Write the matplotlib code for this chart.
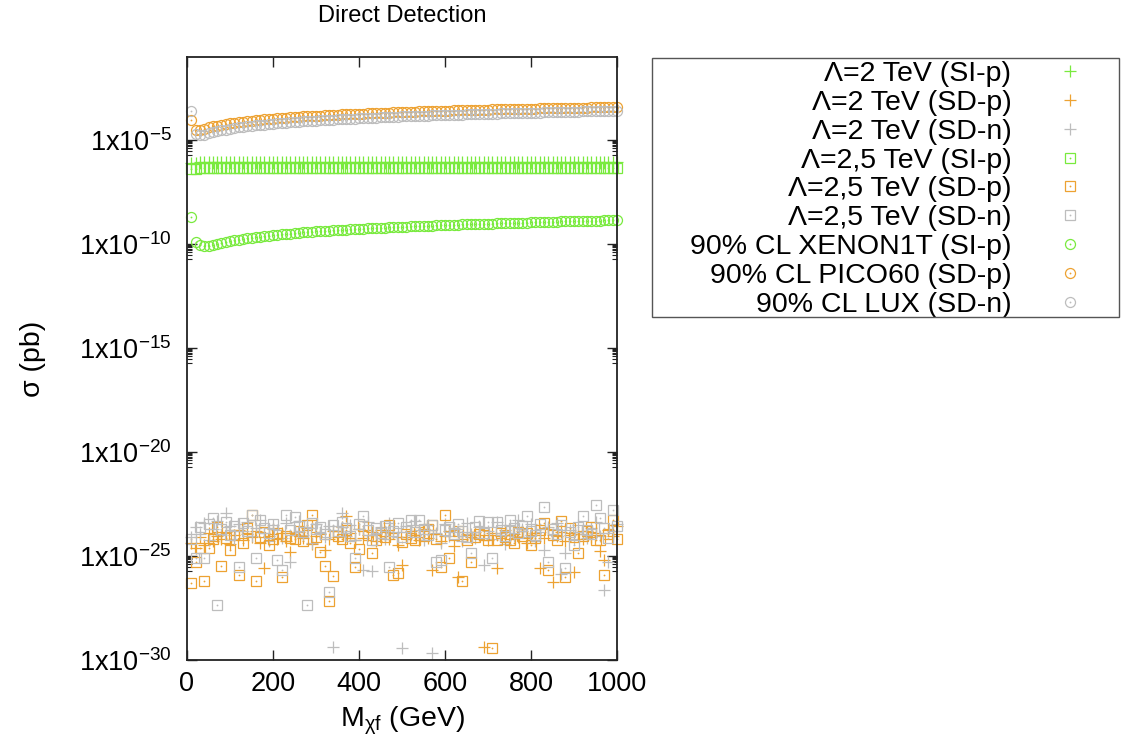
import numpy as np
import matplotlib
matplotlib.use("Agg")
import matplotlib.pyplot as plt
from matplotlib.patches import Rectangle
from matplotlib.ticker import FixedLocator, FixedFormatter, NullLocator

plt.rcParams['font.family'] = ['Liberation Sans', 'DejaVu Sans']
plt.rcParams['mathtext.fontset'] = 'custom'
plt.rcParams['mathtext.rm'] = 'Liberation Sans'
plt.rcParams['mathtext.it'] = 'Liberation Sans:italic'
plt.rcParams['mathtext.bf'] = 'Liberation Sans:bold'

# ---------------- data (log10 of sigma in pb) ----------------
mass = list(range(10, 1001, 10))  # M_chi_f grid (GeV)

log_sip_L2 = [
    -6.12, -6.08, -6.07, -6.06, -6.06, -6.05, -6.05, -6.05, -6.05, -6.05,
    -6.04, -6.04, -6.04, -6.04, -6.04, -6.04, -6.04, -6.04, -6.04, -6.04,
    -6.04, -6.04, -6.04, -6.04, -6.04, -6.04, -6.04, -6.04, -6.04, -6.04,
    -6.04, -6.04, -6.04, -6.04, -6.04, -6.04, -6.04, -6.04, -6.04, -6.04,
    -6.04, -6.04, -6.04, -6.04, -6.04, -6.04, -6.04, -6.04, -6.04, -6.04,
    -6.04, -6.04, -6.04, -6.04, -6.04, -6.04, -6.04, -6.04, -6.04, -6.04,
    -6.04, -6.04, -6.04, -6.04, -6.04, -6.04, -6.04, -6.04, -6.04, -6.04,
    -6.04, -6.04, -6.04, -6.04, -6.04, -6.04, -6.04, -6.04, -6.04, -6.04,
    -6.04, -6.04, -6.04, -6.04, -6.04, -6.04, -6.04, -6.04, -6.04, -6.04,
    -6.04, -6.04, -6.04, -6.04, -6.04, -6.04, -6.04, -6.04, -6.04, -6.04]

log_sdp_L2 = [
    -24.35, -24.62, -24.10, -24.45, -23.90, -24.30, -24.05, -24.20, -23.85, -24.40,
    -24.00, -23.75, -24.25, -23.95, -24.10, -23.80, -24.35, -25.59, -24.05, -23.70,
    -24.20, -23.90, -24.30, -24.79, -24.00, -23.85, -24.15, -23.65, -24.40, -24.05,
    -23.95, -24.71, -24.20, -23.80, -24.10, -23.60, -23.08, -23.90, -24.25, -23.70,
    -24.15, -24.00, -23.85, -24.30, -23.75, -24.05, -24.20, -23.90, -24.45, -25.43,
    -24.10, -23.80, -24.00, -24.25, -23.70, -24.15, -25.67, -23.95, -24.30, -24.05,
    -23.80, -24.50, -26.03, -24.20, -23.95, -24.10, -23.85, -24.00, -29.36, -24.25,
    -23.90, -25.59, -24.05, -23.75, -24.20, -23.95, -24.10, -23.80, -24.35, -24.00,
    -23.90, -25.59, -24.15, -23.70, -26.23, -24.05, -23.85, -24.30, -24.00, -25.75,
    -23.95, -24.20, -23.80, -24.10, -23.90, -24.74, -25.19, -23.75, -24.05, -23.55]

log_sdn_L2 = [
    -24.10, -23.60, -23.95, -23.40, -24.25, -23.70, -23.30, -24.00, -22.95, -23.55,
    -24.20, -23.45, -23.80, -23.35, -24.05, -23.65, -23.25, -23.90, -24.30, -23.50,
    -23.75, -24.15, -23.40, -25.27, -23.85, -23.30, -24.00, -23.60, -24.35, -23.45,
    -23.90, -24.10, -23.55, -29.36, -23.80, -22.95, -24.05, -23.50, -24.25, -23.70,
    -25.67, -23.35, -25.70, -23.95, -23.60, -24.20, -23.40, -23.85, -24.10, -29.44,
    -23.55, -24.00, -23.30, -23.75, -24.25, -23.50, -29.65, -23.90, -24.35, -23.45,
    -24.05, -23.65, -23.85, -24.30, -23.40, -23.95, -24.15, -23.60, -25.43, -23.80,
    -24.20, -23.35, -23.90, -24.40, -23.55, -24.05, -23.25, -23.70, -24.10, -23.45,
    -24.30, -23.85, -24.71, -23.60, -24.00, -23.40, -25.87, -24.87, -23.75, -24.20,
    -23.50, -23.95, -24.15, -23.65, -23.35, -24.05, -26.63, -25.27, -23.80, -23.45]

log_sip_L25 = [
    -6.41, -6.37, -6.36, -6.35, -6.35, -6.34, -6.34, -6.34, -6.34, -6.34,
    -6.33, -6.33, -6.33, -6.33, -6.33, -6.33, -6.33, -6.33, -6.33, -6.33,
    -6.33, -6.33, -6.33, -6.33, -6.33, -6.33, -6.33, -6.33, -6.33, -6.33,
    -6.33, -6.33, -6.33, -6.33, -6.33, -6.33, -6.33, -6.33, -6.33, -6.33,
    -6.33, -6.33, -6.33, -6.33, -6.33, -6.33, -6.33, -6.33, -6.33, -6.33,
    -6.33, -6.33, -6.33, -6.33, -6.33, -6.33, -6.33, -6.33, -6.33, -6.33,
    -6.33, -6.33, -6.33, -6.33, -6.33, -6.33, -6.33, -6.33, -6.33, -6.33,
    -6.33, -6.33, -6.33, -6.33, -6.33, -6.33, -6.33, -6.33, -6.33, -6.33,
    -6.33, -6.33, -6.33, -6.33, -6.33, -6.33, -6.33, -6.33, -6.33, -6.33,
    -6.33, -6.33, -6.33, -6.33, -6.33, -6.33, -6.33, -6.33, -6.33, -6.33]

log_sdp_L25 = [
    -26.28, -25.27, -24.60, -26.19, -24.63, -24.20, -23.59, -25.48, -24.15, -24.71,
    -24.00, -25.91, -24.35, -23.67, -23.03, -26.19, -24.10, -23.85, -24.47, -24.20,
    -23.90, -26.01, -24.05, -24.15, -24.20, -23.80, -24.30, -23.51, -23.03, -24.10,
    -24.79, -25.48, -27.15, -25.94, -24.05, -24.20, -23.75, -24.35, -25.54, -24.68,
    -23.56, -24.00, -24.87, -24.25, -23.90, -24.10, -23.51, -25.91, -25.83, -24.31,
    -23.95, -24.15, -24.23, -23.85, -24.05, -23.70, -23.51, -24.20, -25.51, -23.03,
    -25.11, -24.00, -23.80, -26.19, -24.23, -25.27, -24.10, -23.95, -24.00, -24.25,
    -29.44, -24.23, -23.90, -24.10, -24.23, -24.39, -23.85, -24.05, -23.91, -24.47,
    -24.15, -23.75, -23.43, -25.67, -24.00, -24.23, -23.30, -25.99, -23.67, -24.10,
    -24.87, -24.05, -23.80, -23.59, -24.25, -24.23, -25.91, -23.95, -23.27, -24.20]

log_sdn_L25 = [
    -24.20, -25.11, -23.60, -25.11, -23.45, -23.19, -27.37, -23.70, -23.35, -24.00,
    -23.55, -25.54, -23.40, -23.80, -23.03, -25.11, -23.27, -23.65, -23.90, -23.45,
    -25.19, -25.67, -23.03, -23.75, -23.11, -23.55, -23.85, -27.37, -23.40, -23.70,
    -23.59, -23.95, -26.73, -23.50, -23.80, -23.35, -23.65, -24.05, -25.11, -23.45,
    -23.08, -23.75, -24.23, -23.67, -23.90, -23.55, -25.51, -23.80, -23.43, -24.10,
    -23.60, -23.27, -23.85, -23.27, -23.70, -24.00, -23.50, -25.27, -25.19, -23.75,
    -23.59, -23.95, -23.45, -23.80, -24.10, -24.87, -23.60, -23.30, -23.90, -23.35,
    -25.11, -23.35, -23.75, -24.05, -23.27, -23.65, -23.90, -23.55, -23.08, -23.80,
    -24.00, -23.45, -22.66, -25.27, -23.70, -23.95, -23.50, -25.59, -23.85, -24.47,
    -23.60, -23.08, -23.75, -23.95, -22.55, -23.19, -23.65, -24.15, -22.79, -23.55]

log_xenon1t = [
    -8.69, -9.92, -10.06, -10.08, -10.07, -10.04, -9.99, -9.94, -9.89, -9.85,
    -9.82, -9.78, -9.75, -9.72, -9.69, -9.66, -9.64, -9.61, -9.59, -9.57,
    -9.55, -9.53, -9.51, -9.49, -9.47, -9.46, -9.44, -9.42, -9.41, -9.39,
    -9.38, -9.37, -9.35, -9.34, -9.33, -9.31, -9.30, -9.29, -9.28, -9.27,
    -9.26, -9.24, -9.23, -9.22, -9.21, -9.20, -9.19, -9.18, -9.18, -9.17,
    -9.16, -9.15, -9.14, -9.13, -9.12, -9.11, -9.11, -9.10, -9.09, -9.08,
    -9.08, -9.07, -9.06, -9.05, -9.05, -9.04, -9.03, -9.03, -9.02, -9.01,
    -9.01, -9.00, -8.99, -8.99, -8.98, -8.98, -8.97, -8.96, -8.96, -8.95,
    -8.95, -8.94, -8.94, -8.93, -8.92, -8.92, -8.91, -8.91, -8.90, -8.90,
    -8.89, -8.89, -8.88, -8.88, -8.87, -8.87, -8.86, -8.86, -8.85, -8.85]

log_pico60 = [
    -4.04, -4.49, -4.52, -4.47, -4.39, -4.34, -4.30, -4.26, -4.22, -4.19,
    -4.16, -4.13, -4.11, -4.08, -4.06, -4.04, -4.02, -4.00, -3.98, -3.97,
    -3.95, -3.93, -3.92, -3.90, -3.89, -3.88, -3.86, -3.85, -3.84, -3.83,
    -3.82, -3.81, -3.79, -3.78, -3.77, -3.76, -3.75, -3.75, -3.74, -3.73,
    -3.72, -3.71, -3.70, -3.69, -3.69, -3.68, -3.67, -3.66, -3.66, -3.65,
    -3.64, -3.63, -3.63, -3.62, -3.61, -3.61, -3.60, -3.60, -3.59, -3.58,
    -3.58, -3.57, -3.57, -3.56, -3.56, -3.55, -3.54, -3.54, -3.53, -3.53,
    -3.52, -3.52, -3.51, -3.51, -3.50, -3.50, -3.49, -3.49, -3.49, -3.48,
    -3.48, -3.47, -3.47, -3.46, -3.46, -3.45, -3.45, -3.45, -3.44, -3.44,
    -3.43, -3.43, -3.43, -3.42, -3.42, -3.41, -3.41, -3.41, -3.40, -3.40]

log_lux = [
    -3.59, -4.68, -4.76, -4.73, -4.67, -4.62, -4.57, -4.53, -4.49, -4.45,
    -4.42, -4.39, -4.36, -4.34, -4.31, -4.29, -4.27, -4.25, -4.23, -4.21,
    -4.19, -4.17, -4.16, -4.14, -4.13, -4.11, -4.10, -4.08, -4.07, -4.06,
    -4.05, -4.03, -4.02, -4.01, -4.00, -3.99, -3.98, -3.97, -3.96, -3.95,
    -3.94, -3.93, -3.92, -3.91, -3.90, -3.89, -3.89, -3.88, -3.87, -3.86,
    -3.85, -3.85, -3.84, -3.83, -3.83, -3.82, -3.81, -3.80, -3.80, -3.79,
    -3.78, -3.78, -3.77, -3.77, -3.76, -3.75, -3.75, -3.74, -3.74, -3.73,
    -3.73, -3.72, -3.71, -3.71, -3.70, -3.70, -3.69, -3.69, -3.68, -3.68,
    -3.67, -3.67, -3.66, -3.66, -3.65, -3.65, -3.65, -3.64, -3.64, -3.63,
    -3.63, -3.62, -3.62, -3.61, -3.61, -3.61, -3.60, -3.60, -3.59, -3.59]

series_labels = [
    'Λ=2 TeV (SI-p)', 'Λ=2 TeV (SD-p)', 'Λ=2 TeV (SD-n)',
    'Λ=2,5 TeV (SI-p)', 'Λ=2,5 TeV (SD-p)', 'Λ=2,5 TeV (SD-n)',
    '90% CL XENON1T (SI-p)', '90% CL PICO60 (SD-p)', '90% CL LUX (SD-n)']

x_ticks = [0, 200, 400, 600, 800, 1000]
y_tick_exponents = [-30, -25, -20, -15, -10, -5]
y_tick_labels = ['1x10$^{\\mathregular{%d}}$' % e for e in y_tick_exponents]

# ---------------- styling ----------------
GREEN = '#79EA3E'
ORANGE = '#EDA232'
GREY = '#BDBDBD'

W, H = 1123, 753
fig = plt.figure(figsize=(W / 100, H / 100), dpi=100)
L, R, T, B = 187, 617, 57, 660
ax = fig.add_axes([L / W, 1 - B / H, (R - L) / W, (B - T) / H])

series = [
    (log_sip_L2, GREEN, '+'), (log_sdp_L2, ORANGE, '+'), (log_sdn_L2, GREY, '+'),
    (log_sip_L25, GREEN, 's'), (log_sdp_L25, ORANGE, 's'), (log_sdn_L25, GREY, 's'),
    (log_xenon1t, GREEN, 'o'), (log_pico60, ORANGE, 'o'), (log_lux, GREY, 'o')]

x = np.array(mass, dtype=float)
handles = []
for vals, col, mk in series:
    y = 10.0 ** np.array(vals)
    if mk == '+':
        h, = ax.plot(x, y, linestyle='none', marker='+', ms=8.5, mew=0.9,
                     color=col, clip_on=False)
        handles.append(h)
    else:
        h1, = ax.plot(x, y, linestyle='none', marker=mk, ms=7.2, mew=0.9,
                      mfc='none', mec=col, clip_on=False)
        h2, = ax.plot(x, y, linestyle='none', marker='o', ms=1.3, mew=0,
                      color=col, clip_on=False)
        handles.append((h1, h2))

ax.set_xlim(0, 1000)
ax.set_yscale('log')
ax.set_ylim(1e-30, 1e-1)

ax.xaxis.set_major_locator(FixedLocator(x_ticks))
ax.xaxis.set_minor_locator(NullLocator())
ax.yaxis.set_major_locator(FixedLocator([10.0 ** e for e in y_tick_exponents]))
ax.yaxis.set_major_formatter(FixedFormatter(y_tick_labels))
minor = [k * 10.0 ** (e - 1) for e in y_tick_exponents + [0] for k in range(2, 10)]
ax.yaxis.set_minor_locator(FixedLocator(minor))
ax.yaxis.set_minor_formatter(FixedFormatter([''] * len(minor)))

ax.tick_params(which='both', direction='in', top=True, right=True,
               color='#222222', labelsize=19.5)
ax.tick_params(which='major', length=7, width=1.0)
ax.tick_params(which='minor', length=3.5, width=0.8)
ax.tick_params(axis='x', pad=8)
ax.tick_params(axis='y', pad=11)
for s in ax.spines.values():
    s.set_linewidth(1.3)
    s.set_color('#222222')

ax.set_xlabel('M$_{\\mathregular{χf}}$ (GeV)', fontsize=20.5, ha='center', va='center')
ax.xaxis.set_label_coords(0.5, (B - 721) / (B - T))
ax.set_ylabel('σ (pb)', fontsize=20.5, ha='center', va='center')
ax.yaxis.set_label_coords((33 - L) / (R - L), 0.5)

fig.text((L + R) / 2 / W, 1 - 16 / H, 'Direct Detection', ha='center', va='center',
         fontsize=17)

# legend (key)
leg = ax.legend(handles, series_labels, loc='upper right',
                bbox_to_anchor=(1084 / W, 1 - 61 / H), bbox_transform=fig.transFigure,
                frameon=False, markerfirst=False, fontsize=20.5, handlelength=1.0,
                handletextpad=1.55, borderpad=0, borderaxespad=0, labelspacing=0.10)
for col in leg._legend_handle_box.get_children():
    col.align = 'right'
fig.add_artist(Rectangle((652 / W, 1 - 317 / H), (1119 - 652) / W, (317 - 58) / H,
                         transform=fig.transFigure, fill=False, ec='#555555', lw=1.0))

fig.savefig('out.png', dpi=100)
